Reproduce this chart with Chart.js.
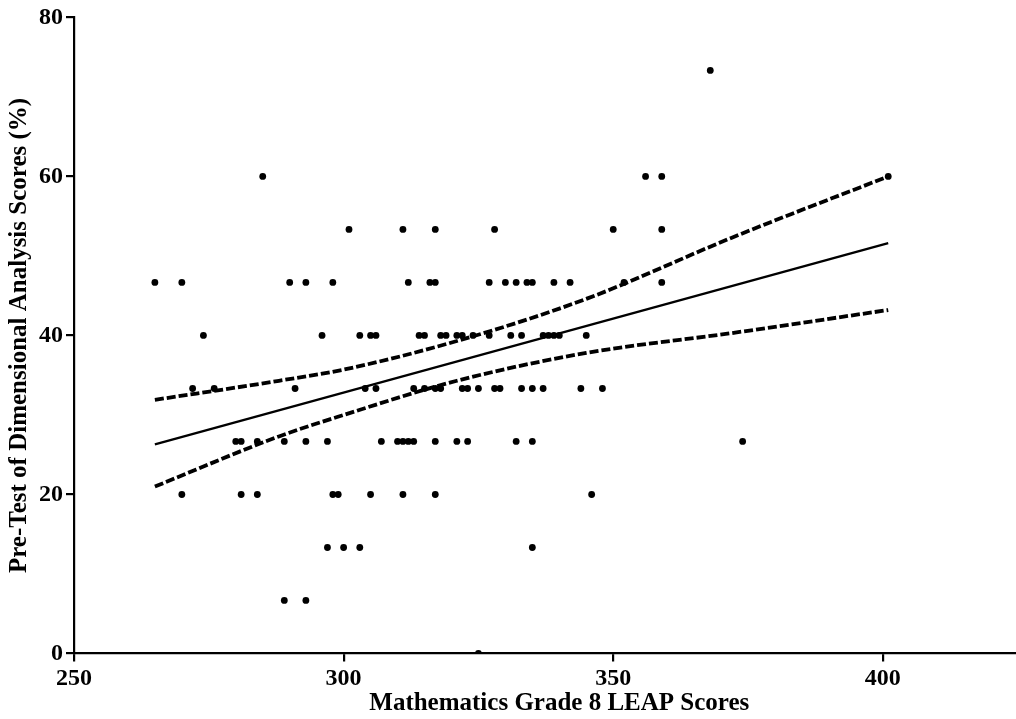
<!DOCTYPE html>
<html>
<head>
<meta charset="utf-8">
<script src="https://cdn.jsdelivr.net/npm/chart.js@4"></script>
<style>
  html, body { margin: 0; padding: 0; background: #fff; overflow: hidden; }
  #wrap { width: 1048px; height: 719px; }
</style>
</head>
<body>
<div id="wrap"><canvas id="c" width="1048" height="719"></canvas></div>
<script>
// Data
const xTickValues = [250, 300, 350, 400];
const yTickValues = [0, 20, 40, 60, 80];

// Scatter points grouped by score level (y) -> LEAP scores (x)
const y0 = 0,     x0  = [325];
const y7 = 6.67,  x7  = [289, 293];
const y13 = 13.33, x13 = [297, 300, 303, 335];
const y20 = 20,   x20 = [270, 281, 284, 298, 299, 305, 311, 317, 346];
const y27 = 26.67, x27 = [280, 281, 284, 289, 293, 297, 307, 310, 311, 312, 313, 317, 321, 323, 332, 335, 374];
const y33 = 33.33, x33 = [272, 276, 291, 304, 306, 313, 315, 317, 318, 322, 323, 325, 328, 329, 333, 335, 337, 344, 348];
const y40 = 40,   x40 = [274, 296, 303, 305, 306, 314, 315, 318, 319, 321, 322, 324, 327, 331, 333, 337, 338, 339, 340, 345];
const y47 = 46.67, x47 = [265, 270, 290, 293, 298, 312, 316, 317, 327, 330, 332, 334, 335, 339, 342, 352, 359];
const y53 = 53.33, x53 = [301, 311, 317, 328, 350, 359];
const y60 = 60,   x60 = [285, 356, 359, 401];
const y73 = 73.33, x73 = [368];

// Regression line and 95% confidence band
const fitX = [265, 401];
const fitY = [26.3, 51.6];
const bandX = [265, 288, 300, 321, 345, 372, 401];
const upperY = [31.9, 34.3, 35.7, 39.3, 44.6, 52.3, 60.0];
const lowerY = [21.0, 27.3, 30.0, 34.3, 37.8, 40.3, 43.2];

const levels = [[y0,x0],[y7,x7],[y13,x13],[y20,x20],[y27,x27],[y33,x33],[y40,x40],[y47,x47],[y53,x53],[y60,x60],[y73,x73]];
const points = [];
levels.forEach(([y, xs]) => xs.forEach(x => points.push({x: x, y: y})));
const pair = (xs, ys) => xs.map((x, i) => ({x: x, y: ys[i]}));

const tickFont = { family: '"Liberation Serif", "Times New Roman", serif', weight: 'bold', size: 24 };
const titleFont = { family: '"Liberation Serif", "Times New Roman", serif', weight: 'bold', size: 25 };

new Chart(document.getElementById('c'), {
  type: 'scatter',
  data: {
    datasets: [
      { data: points, pointRadius: 3.4, pointHoverRadius: 3.4, backgroundColor: '#000', borderWidth: 0, showLine: false },
      { data: pair(fitX, fitY), showLine: true, pointRadius: 0, borderColor: '#000', borderWidth: 2.3, fill: false },
      { data: pair(bandX, upperY), showLine: true, pointRadius: 0, borderColor: '#000', borderWidth: 3.8, borderDash: [9, 3], cubicInterpolationMode: 'monotone', fill: false },
      { data: pair(bandX, lowerY), showLine: true, pointRadius: 0, borderColor: '#000', borderWidth: 3.8, borderDash: [9, 3], cubicInterpolationMode: 'monotone', fill: false }
    ]
  },
  options: {
    responsive: false,
    animation: false,
    devicePixelRatio: 1,
    layout: { padding: { top: 16, right: 0, bottom: 0, left: 0 } },
    plugins: { legend: { display: false }, tooltip: { enabled: false } },
    scales: {
      x: {
        type: 'linear', min: 250, max: 430,
        afterBuildTicks: s => { s.ticks = xTickValues.map(v => ({ value: v })); },
        afterFit: s => { s.height = 65.5; },
        border: { display: true, color: '#000', width: 2.2 },
        grid: { display: true, drawOnChartArea: false, drawTicks: true, tickLength: 8, color: '#000', lineWidth: 2.2 },
        ticks: { color: '#000', font: tickFont, padding: 3, maxRotation: 0 },
        title: { display: true, text: 'Mathematics Grade 8 LEAP Scores', color: '#000', font: titleFont, padding: { top: 0, bottom: 0 } }
      },
      y: {
        type: 'linear', min: 0, max: 80,
        afterBuildTicks: s => { s.ticks = yTickValues.map(v => ({ value: v })); },
        afterFit: s => { s.width = 74; },
        border: { display: true, color: '#000', width: 2.2 },
        grid: { display: true, drawOnChartArea: false, drawTicks: true, tickLength: 8, color: '#000', lineWidth: 2.2 },
        ticks: { color: '#000', font: tickFont, padding: 3 },
        title: { display: true, text: 'Pre-Test of Dimensional Analysis Scores (%)', color: '#000', font: titleFont, padding: { top: 5, bottom: 0 } }
      }
    }
  }
});
</script>
</body>
</html>
